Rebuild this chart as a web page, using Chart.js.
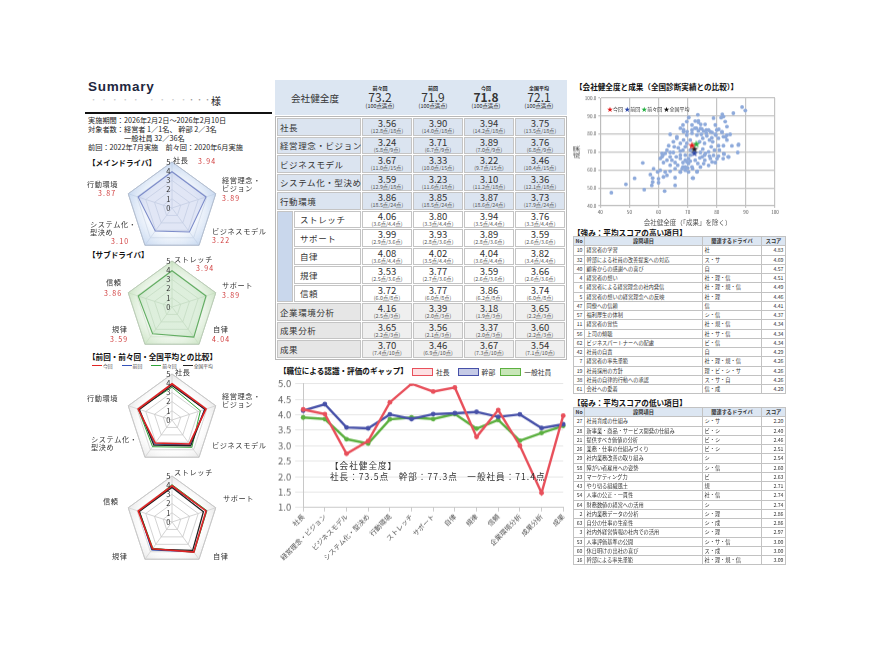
<!DOCTYPE html>
<html lang="ja">
<head>
<meta charset="utf-8">
<title>Summary</title>
<script src="https://cdn.jsdelivr.net/npm/chart.js@4.4.1/dist/chart.umd.min.js"></script>
<style>
html,body{margin:0;padding:0;background:#fff;}
body{position:relative;width:881px;height:660px;overflow:hidden;font-family:"Noto Sans CJK JP","Noto Sans",sans-serif;color:#222;}
.a{position:absolute;white-space:nowrap;}
canvas{position:absolute;}
.ttl{font-weight:bold;font-size:7.6px;line-height:9px;color:#111;}
.info{font-size:7.2px;line-height:9.3px;}
.lbl{font-size:7.2px;line-height:7.8px;letter-spacing:0.6px;color:#333;}
.val{font-size:7px;line-height:8px;color:#d03a3a;letter-spacing:1.2px;}
#ht,#mt{position:absolute;left:275px;width:292px;border-collapse:separate;border-spacing:1px;table-layout:fixed;}
#ht{top:80px;border:1px solid transparent;background:#dce6f2;}
#ht td{border:1px solid transparent;padding:0;height:29px;text-align:center;vertical-align:middle;}
#ht .hl{font-size:9.6px;text-align:center;color:#333;}
#ht .hc{font-size:5px;font-weight:bold;line-height:6px;}
#ht .hn{font-size:12px;line-height:12px;color:#333;}
#ht .hs{font-size:5.4px;line-height:7px;}
#mt{top:116px;border:1px solid #b8b8b8;}
#mt td{border:1px solid #c4c4c4;padding:0;height:15.5px;vertical-align:middle;}
#mt td.lab{font-size:8.5px;letter-spacing:0.6px;padding-left:2px;white-space:nowrap;color:#333;}
#mt tr.main td{background:#dbe4f0;}
#mt tr.sub td{background:#fff;}
#mt tr.sub td.lab{padding-left:5px;}
#mt tr.other td{background:#efefef;}
#mt tr.other td.lab{background:#e6e6e6;}
#mt td.band{background:#c9d7ec !important;}
#mt td.v{text-align:center;}
#mt .n{font-size:9.5px;line-height:9px;color:#333;}
#mt .s{font-size:5.3px;line-height:6px;color:#555;}
.qt{position:absolute;left:573px;width:212px;border-collapse:collapse;table-layout:fixed;font-size:5.2px;color:#333;}
.qt td,.qt th{border:1px solid #c2c2c2;height:8.25px;padding:0 1.5px;line-height:8px;overflow:hidden;white-space:nowrap;}
.qt th{background:#dce6f2;font-weight:bold;text-align:center;}
.qt th.no{text-align:left;}
.qt td.no,.qt td.sc{text-align:right;}
.lg{display:inline-block;width:19px;height:6px;border:1.3px solid;vertical-align:-1px;margin-right:3px;}
</style>
</head>
<body>
<div class="a" style="left:88px;top:79px;font-family:'Liberation Sans',sans-serif;font-weight:bold;font-size:13.5px;letter-spacing:0.7px;color:#1e2740;">Summary</div>
<div class="a" style="left:90px;top:94px;font-size:7px;color:#c8c8c8;letter-spacing:1px;">・ ・ ・ ・ ・　・ ・ ・ ・<span style="color:#9a9a9a">・・・</span></div>
<div class="a" style="left:211px;top:93px;font-size:10px;">様</div>
<div class="a" style="left:85px;top:112px;width:187px;height:1.5px;background:#111;"></div>
<div class="a info" style="left:88px;top:115.5px;">実施期間：2026年2月2日～2026年2月10日</div>
<div class="a info" style="left:88px;top:124.8px;">対象者数：経営者 1／1名、 幹部 2／3名</div>
<div class="a info" style="left:124px;top:134.1px;">一般社員 32／36名</div>
<div class="a info" style="left:88px;top:143.4px;">前回：2022年7月実施　前々回：2020年6月実施</div>

<div class="a ttl" style="left:88px;top:157.5px;">【メインドライバ】</div>
<div class="a ttl" style="left:88px;top:250px;">【サブドライバ】</div>
<div class="a ttl" style="left:88px;top:351.5px;">【前回・前々回・全国平均との比較】</div>
<div class="a" id="cmpLegend" style="left:92px;top:361.5px;font-size:4.8px;color:#444;"></div>

<canvas id="r1" width="110" height="110"></canvas>
<canvas id="r2" width="110" height="110"></canvas>
<canvas id="r3" width="110" height="110"></canvas>
<canvas id="r4" width="110" height="110"></canvas>
<div id="radarLabels"></div>

<table id="ht"><colgroup><col style="width:76px"><col><col><col><col></colgroup><tr id="htRow"></tr></table>
<table id="mt"></table>

<div class="a ttl" style="left:279px;top:366px;">【職位による認識・評価のギャップ】</div>
<div class="a" id="gapLegend" style="left:412px;top:367px;font-size:6.8px;color:#333;"></div>
<canvas id="gap" width="300" height="200"></canvas>
<div class="a" id="gapNote" style="left:330px;top:460px;font-size:8.6px;line-height:11px;letter-spacing:1px;color:#333;"></div>

<div class="a ttl" style="left:575px;top:82px;">【会社健全度と成果（全国診断実績との比較）】</div>
<canvas id="sc" width="220" height="140"></canvas>
<div class="a" id="scLegend" style="left:607px;top:104px;font-size:5px;color:#333;"></div>

<div class="a ttl" style="left:573px;top:228px;">【強み：平均スコアの高い項目】</div>
<table class="qt" id="strong" style="top:236px;"></table>
<div class="a ttl" style="left:573px;top:398px;">【弱み：平均スコアの低い項目】</div>
<table class="qt" id="weak" style="top:407px;"></table>

<script>
// ---- data ----
const mainLabels = ['社長','経営理念・ビジョン','ビジネスモデル','システム化・型決め','行動環境'];
const subLabels = ['ストレッチ','サポート','自律','規律','信頼'];
const mainNow = [3.94, 3.89, 3.22, 3.10, 3.87];
const mainPrev = [3.90, 3.71, 3.33, 3.23, 3.85];
const mainPrev2 = [3.56, 3.24, 3.67, 3.59, 3.86];
const mainNational = [3.75, 3.76, 3.46, 3.36, 3.73];
const subNow = [3.94, 3.89, 4.04, 3.59, 3.86];
const subPrev = [3.80, 3.93, 4.02, 3.77, 3.77];
const subPrev2 = [4.06, 3.99, 4.08, 3.53, 3.72];
const subNational = [3.76, 3.59, 3.82, 3.66, 3.74];
const radarMax = [5, 5, 5, 5, 5];

const periodLabels = ['前々回','前回','今回','全国平均'];
const healthScores = [73.2, 71.9, 71.8, 72.1];

const tableRows = ['社長','経営理念・ビジョン','ビジネスモデル','システム化・型決め','行動環境','ストレッチ','サポート','自律','規律','信頼','企業環境分析','成果分析','成果'];
const rowKind = ['main','main','main','main','main','sub','sub','sub','sub','sub','other','other','other'];
const scorePrev2 = [3.56, 3.24, 3.67, 3.59, 3.86, 4.06, 3.99, 4.08, 3.53, 3.72, 4.16, 3.65, 3.70];
const scorePrev = [3.90, 3.71, 3.33, 3.23, 3.85, 3.80, 3.93, 4.02, 3.77, 3.77, 3.39, 3.56, 3.46];
const scoreNow = [3.94, 3.89, 3.22, 3.10, 3.87, 3.94, 3.89, 4.04, 3.59, 3.86, 3.18, 3.37, 3.67];
const scoreNational = [3.75, 3.76, 3.46, 3.36, 3.73, 3.76, 3.59, 3.82, 3.66, 3.74, 3.65, 3.60, 3.54];
const ptsPrev2 = ['12.8','5.8','11.0','12.9','18.5','3.6','2.9','3.6','2.5','6.0','2.5','2.2','7.4'];
const ptsPrev = ['14.0','6.7','10.0','11.6','18.5','3.3','2.8','3.5','2.7','6.0','2.0','2.1','6.9'];
const ptsNow = ['14.2','7.0','9.7','11.2','18.6','3.5','2.8','3.6','2.6','6.2','1.9','2.0','7.3'];
const ptsNational = ['13.5','6.8','10.4','12.1','17.9','3.3','2.6','3.4','2.6','6.0','2.2','2.2','7.1'];
const ptsMax = ['18','9','15','18','24','4.4','3.6','4.4','3.6','8','3','3','10'];

const gapLabels = ['社長','経営理念・ビジョン','ビジネスモデル','システム化・型決め','行動環境','ストレッチ','サポート','自律','規律','信頼','企業環境分析','成果分析','成果'];
const levelNames = ['社長','幹部','一般社員'];
const gapPresident = [4.17, 4.02, 2.74, 3.15, 4.40, 5.00, 4.75, 4.88, 3.28, 4.15, 3.00, 1.47, 3.97];
const gapManager = [4.13, 4.34, 3.59, 3.56, 4.01, 3.86, 4.02, 4.05, 4.09, 3.93, 4.01, 3.57, 3.69];
const gapStaff = [3.91, 3.86, 3.21, 3.07, 3.85, 3.91, 3.86, 4.02, 3.55, 3.83, 3.16, 3.41, 3.64];
const levelHealth = [73.5, 77.3, 71.4];

const starLabels = ['今回','前回','前々回','全国平均'];
const starX = [71.5, 72.3, 73.0, 72.3];
const starY = [73.4, 69.1, 74.2, 71.3];
const nationalX = [88.7,89.8,85.7,81.9,82.3,78.9,73.5,73.7,76.0,79.5,82.9,83.5,69.7,70.4,71.5,73.0,74.9,76.4,77.8,80.0,
  81.8,83.5,84.6,64.0,67.5,68.6,69.7,71.5,73.2,74.7,76.6,78.3,80.6,82.3,83.5,80.6,82.3,87.4,87.2,83.9,
  80.6,82.5,77.8,79.5,75.9,74.2,77.2,75.2,78.1,75.8,74.1,66.3,65.1,63.5,67.5,69.2,70.9,67.5,65.1,62.9,
  61.2,60.6,61.7,64.0,65.7,67.5,69.2,70.3,71.5,73.2,69.2,67.5,65.7,64.0,62.9,61.7,65.7,71.7,60.0,59.7,
  60.6,62.3,58.3,57.2,58.0,58.0,57.7,60.0,62.1,65.7,54.6,51.8,48.8,43.8,55.1,56.8,70.9,69.7,68.6,70.9,
  74.4,76.1,75.0,72.6,70.9,69.2,67.5,66.1,64.0,62.9,64.6,66.6,68.4,70.0,68.4,70.3,71.7,73.5,75.8,77.5,
  79.2,80.9,78.6,77.5,79.7,75.2,76.4,73.7,72.5,74.5,68.4,66.3,65.4,66.8,68.4,64.0,62.3,61.2,61.5,81.5,
  72.6,73.7,68.6,69.8,71.5,74.4,75.5,77.2,78.4,79.5,80.7,81.8,83.0,85.2,87.5,82.4,84.1,82.2,78.9,80.1,
  78.4,77.2,75.5,74.4,73.3,71.9,67.5,68.1,69.2,69.8,70.3];
const nationalY = [95.0,93.1,91.6,91.0,89.7,88.8,90.7,87.3,85.4,85.0,86.9,84.1,86.9,89.2,85.0,83.2,82.8,82.2,81.3,82.2,
  80.9,79.4,79.8,79.8,83.2,81.3,79.4,80.4,79.4,79.8,78.9,77.9,77.6,78.5,76.6,73.5,73.5,73.8,69.7,67.3,
  67.7,68.8,66.4,64.1,65.4,66.7,70.1,71.6,72.9,74.8,75.7,77.6,75.7,73.5,74.8,72.9,71.0,70.5,69.7,71.0,
  67.3,66.4,64.1,62.6,64.1,66.4,65.4,63.6,61.7,58.9,59.8,58.9,60.7,59.3,57.0,56.1,55.7,55.5,55.1,58.9,
  59.8,58.9,60.7,57.4,55.5,53.3,51.4,52.9,48.2,51.4,63.9,55.3,52.0,47.3,49.0,36.6,76.6,74.8,76.6,68.2,
  69.7,69.2,67.3,65.4,64.9,68.2,68.2,67.3,67.3,65.4,65.4,62.6,61.7,61.1,64.1,58.9,60.7,63.6,68.2,67.7,
  71.0,71.0,75.7,76.6,79.4,77.6,80.4,81.7,83.2,85.4,85.0,78.5,72.9,72.3,71.0,69.7,69.2,69.2,68.2,89.1,
  87.2,86.5,82.4,81.3,82.2,83.1,81.6,82.2,80.9,79.8,82.6,81.2,78.4,73.4,74.2,69.1,67.2,66.3,68.1,66.3,
  64.4,62.5,63.5,61.6,59.2,55.4,58.8,60.7,61.6,64.4,66.3];

const strongNo = [10,32,40,4,6,5,47,57,11,56,62,42,7,19,38,61];
const strongItem = ['経営者の学習','幹部による社員の改善提案への対応','顧客からの感謝への喜び','経営者の想い','経営者による経営理念の社内発信','経営者の想いの経営理念への反映','同僚への信頼','福利厚生の体制','経営者の覚悟','上司の傾聴','ビジネスパートナーへの配慮','社員の自責','経営者の率先垂範','社員採用の方針','社員の自律的行動への承認','会社への愛着'];
const strongDriver = ['社','ス・サ','自','社・理・信','社・理・規・信','社・理','信','シ・信','社・規・信','社・サ・信','ビ・信','自','社・理・規・信','理・ビ・シ・サ','ス・サ・自','信・成'];
const strongScore = [4.83,4.69,4.57,4.51,4.49,4.46,4.41,4.37,4.34,4.34,4.34,4.29,4.26,4.26,4.26,4.20];
const weakNo = [27,28,21,26,29,58,23,43,54,64,2,63,3,53,60,16];
const weakItem = ['社員育成の仕組み','新事業・商品・サービス開発の仕組み','提供すべき価値の分析','業務・仕事の仕組みづくり','社内業務改善の取り組み','障がい者雇用への姿勢','マーケティング力','やり切る組織風土','人事の公正・一貫性','財務数値の経営への活用','社内業務データの分析','自分の仕事の生産性','社内外経営情報の社内での活用','人事評価基準の公開','休日明けの出社の喜び','幹部による率先垂範'];
const weakDriver = ['シ・サ','ビ・シ','ビ・シ','ビ・シ','シ','シ・信','ビ','規','社・信','シ','シ・理','シ・成','シ・理','シ・サ・信','ス・成','社・理・規・信'];
const weakScore = [2.20,2.40,2.46,2.51,2.54,2.60,2.63,2.71,2.74,2.74,2.86,2.86,2.97,3.00,3.00,3.09];

// ---- styles ----
Chart.defaults.font.family = "'Noto Sans CJK JP', sans-serif";
Chart.defaults.animation = false;
const periodColors = ['#2fa33a', '#3552b8', '#e02323', '#222222']; // 前々回, 前回, 今回, 全国平均
const levelColors = ['#e8505b', '#4650a8', '#5cb040'];
const levelFills = ['#fde0e3', '#c5cae6', '#c8e6b8'];
const starColors = ['#e01515', '#2a46a8', '#22b040', '#111111'];

function bandFill(inner, outer){
  return (c) => {
    const s = c.chart.scales.r;
    if(!s || !s.drawingArea) return outer;
    const g = c.chart.ctx.createRadialGradient(s.xCenter, s.yCenter, 0, s.xCenter, s.yCenter, s.drawingArea);
    g.addColorStop(0, inner); g.addColorStop(0.55, inner); g.addColorStop(1, outer);
    return g;
  };
}
const radarTicks = {
  id:'radarTicks',
  afterDatasetsDraw(chart){
    const s = chart.scales.r, c = chart.ctx;
    c.save();
    c.font = "7.5px 'Noto Sans CJK JP'"; c.fillStyle = '#333';
    c.textAlign = 'right'; c.textBaseline = 'middle';
    s.ticks.forEach(t => c.fillText(String(t.value), s.xCenter - 1.5, s.yCenter - s.getDistanceFromCenterForValue(t.value)));
    c.restore();
  }
};
function makeRadar(id, labels, datasets, gridColor){
  return new Chart(document.getElementById(id), {
    type:'radar',
    data:{ labels, datasets },
    options:{
      responsive:false, maintainAspectRatio:false,
      layout:{ padding:6 },
      plugins:{ legend:{display:false}, tooltip:{enabled:false} },
      elements:{ point:{radius:0}, line:{tension:0} },
      scales:{ r:{ min:0, max:5, ticks:{ stepSize:1, display:false },
        pointLabels:{ display:false }, grid:{ color:gridColor, lineWidth:0.8 }, angleLines:{ color:gridColor, lineWidth:0.8 } } }
    },
    plugins:[radarTicks]
  });
}
function placeRadar(chart, cx, cy, r){
  const d = 2 * (r - chart.scales.r.drawingArea);
  if(Math.abs(d) > 0.1){ chart.resize(chart.width + d, chart.height + d); chart.update('none'); }
  const s = chart.scales.r;
  chart.canvas.style.left = (cx - s.xCenter) + 'px';
  chart.canvas.style.top = (cy - s.yCenter) + 'px';
}
function fitArea(chart, box){
  const a = chart.chartArea;
  chart.resize(chart.width + (box.r - box.l) - (a.right - a.left), chart.height + (box.b - box.t) - (a.bottom - a.top));
  chart.update('none');
  const b = chart.chartArea;
  chart.canvas.style.left = (box.l - b.left) + 'px';
  chart.canvas.style.top = (box.t - b.top) + 'px';
}

// ---- radars ----
const r1 = makeRadar('r1', mainLabels, [
  { data: mainNow, borderColor:'#7d8cc9', borderWidth:1.1, backgroundColor:'rgba(130,145,210,0.18)', fill:true },
  { data: radarMax, borderColor:'#b4bfd0', borderWidth:1, backgroundColor: bandFill('rgba(240,245,252,0.6)','rgba(190,210,238,0.85)'), fill:true }
], '#aab5c8');
placeRadar(r1, 172, 208, 46);
const r2 = makeRadar('r2', subLabels, [
  { data: subNow, borderColor:'#62ad62', borderWidth:1.1, backgroundColor:'rgba(120,188,120,0.2)', fill:true },
  { data: radarMax, borderColor:'#bccdb8', borderWidth:1, backgroundColor: bandFill('rgba(241,248,239,0.6)','rgba(196,224,188,0.85)'), fill:true }
], '#b2c4ae');
placeRadar(r2, 172, 307, 46);
function cmpSets(now, prev, prev2, nat){
  return [
    { data: now, borderColor: periodColors[2], borderWidth:1.6, fill:false },
    { data: nat, borderColor: periodColors[3], borderWidth:1.3, fill:false },
    { data: prev, borderColor: periodColors[1], borderWidth:1, fill:false },
    { data: prev2, borderColor: periodColors[0], borderWidth:1, fill:false },
    { data: radarMax, borderColor:'#c8c8c8', borderWidth:1, backgroundColor: bandFill('rgba(255,255,255,0)','rgba(212,212,212,0.55)'), fill:true }
  ];
}
const r3 = makeRadar('r3', mainLabels, cmpSets(mainNow, mainPrev, mainPrev2, mainNational), '#c8c8c8');
placeRadar(r3, 172, 420, 46);
const r4 = makeRadar('r4', subLabels, cmpSets(subNow, subPrev, subPrev2, subNational), '#c8c8c8');
placeRadar(r4, 172, 522, 46);

// radar text labels (name lines, optional value)
const radarText = [
  [['社長'], 173, 157, mainNow[0], 198, 157],
  [['経営理念・','ビジョン'], 222, 177, mainNow[1], 222, 194],
  [['ビジネスモデル'], 212, 228, mainNow[2], 212, 236],
  [['システム化・','型決め'], 90, 221, mainNow[3], 111, 237],
  [['行動環境'], 87, 181, mainNow[4], 98, 189],
  [['ストレッチ'], 174, 256, subNow[0], 196, 263.5],
  [['サポート'], 222, 282, subNow[1], 222, 291],
  [['自律'], 213, 326, subNow[2], 212, 335],
  [['規律'], 112, 326, subNow[3], 110, 335],
  [['信頼'], 106, 279, subNow[4], 104, 289],
  [['社長'], 175, 369],
  [['経営理念・','ビジョン'], 222, 393],
  [['ビジネスモデル'], 212, 442],
  [['システム化・','型決め'], 91, 436],
  [['行動環境'], 87, 395],
  [['ストレッチ'], 174, 469],
  [['サポート'], 223, 495],
  [['自律'], 213, 553],
  [['規律'], 112, 553],
  [['信頼'], 103, 498]
];
let rl = '';
radarText.forEach(t => {
  rl += '<div class="a lbl" style="left:'+t[1]+'px;top:'+t[2]+'px;">'+t[0].join('<br>')+'</div>';
  if(t[3] !== undefined) rl += '<div class="a val" style="left:'+t[4]+'px;top:'+t[5]+'px;">'+t[3].toFixed(2)+'</div>';
});
document.getElementById('radarLabels').innerHTML = rl;
const cmpOrder = [2, 1, 0, 3];
document.getElementById('cmpLegend').innerHTML = cmpOrder.map(i =>
  '<span style="display:inline-block;width:10px;height:0;border-top:'+(i===2?1.8:1.2)+'px solid '+periodColors[i]+';vertical-align:1.5px;margin-right:1px;"></span>'+periodLabels[i]+'<span style="display:inline-block;width:'+(i===0?6:9)+'px"></span>').join('');

// ---- health header & score table ----
let hh = '<td class="hl">会社健全度</td>';
healthScores.forEach((v, i) => {
  hh += '<td><div class="hc">'+periodLabels[i]+'</div><div class="hn"'+(i===2?' style="font-weight:bold"':'')+'>'+v.toFixed(1)+'</div><div class="hs">(100点満点)</div></td>';
});
document.getElementById('htRow').innerHTML = hh;
const scoreCols = [scorePrev2, scorePrev, scoreNow, scoreNational];
const ptsCols = [ptsPrev2, ptsPrev, ptsNow, ptsNational];
let mh = '<colgroup><col style="width:16px"><col style="width:67px"><col><col><col><col></colgroup>';
tableRows.forEach((name, i) => {
  const kind = rowKind[i];
  mh += '<tr class="'+kind+'">';
  if(kind === 'sub'){
    if(rowKind[i-1] !== 'sub') mh += '<td class="band" rowspan="'+rowKind.filter(k => k==='sub').length+'"></td>';
    mh += '<td class="lab">'+name+'</td>';
  } else {
    mh += '<td class="lab" colspan="2">'+name+'</td>';
  }
  scoreCols.forEach((col, j) => {
    mh += '<td class="v"><div class="n">'+col[i].toFixed(2)+'</div><div class="s">('+ptsCols[j][i]+'点/'+ptsMax[i]+'点)</div></td>';
  });
  mh += '</tr>';
});
document.getElementById('mt').innerHTML = mh;

// ---- gap line chart ----
const gapSeries = [gapPresident, gapManager, gapStaff];
document.getElementById('gapLegend').innerHTML = levelNames.map((n, i) =>
  '<span class="lg" style="border-color:'+levelColors[i]+';background:'+levelFills[i]+'"></span>'+n+'<span style="display:inline-block;width:'+(i===0?8:5)+'px"></span>').join('');
document.getElementById('gapNote').innerHTML = '【会社健全度】<br>' +
  levelNames.map((n, i) => n+'：'+levelHealth[i].toFixed(1)+'点').join('　');
const gap = new Chart(document.getElementById('gap'), {
  type:'line',
  data:{ labels: gapLabels, datasets: gapSeries.map((s, i) => ({
    label: levelNames[i], data: s, borderColor: levelColors[i], backgroundColor: levelColors[i],
    borderWidth: 2.4, pointRadius: 2.4, pointBorderWidth: 0, tension: 0
  })) },
  options:{
    responsive:false, maintainAspectRatio:false,
    layout:{ padding:{ left:2, right:4, top:6, bottom:2 } },
    plugins:{ legend:{display:false}, tooltip:{enabled:false} },
    scales:{
      y:{ min:1, max:5, ticks:{ stepSize:0.5, callback: v => v.toFixed(1), font:{size:9.5}, color:'#666', padding:4 },
          grid:{ color:'#e6e6e6' }, border:{ color:'#c8c8c8' } },
      x:{ ticks:{ minRotation:45, maxRotation:45, autoSkip:false, font:{size:6.8}, color:'#555', padding:1 },
          grid:{ drawOnChartArea:false, color:'#ccc', tickLength:4 }, border:{ color:'#c8c8c8' } }
    }
  }
});
fitArea(gap, { l:303.3, t:383.6, r:563.3, b:506.7 });

// ---- scatter ----
function starImage(color){
  const c = document.createElement('canvas');
  c.width = 10; c.height = 10;
  const g = c.getContext('2d');
  g.fillStyle = color; g.font = "10px 'DejaVu Sans'"; g.textAlign = 'center'; g.textBaseline = 'middle';
  g.fillText('★', 5, 5.5);
  return c;
}
const starSets = starLabels.map((n, i) => ({
  label:n, data:[{ x: starX[i], y: starY[i] }], pointStyle: starImage(starColors[i]), pointRadius:5
}));
const sc = new Chart(document.getElementById('sc'), {
  type:'scatter',
  data:{ datasets: starSets.concat([{ label:'全国', data: nationalX.map((x, i) => ({ x, y: nationalY[i] })),
    pointRadius:1.9, backgroundColor:'#8eaadb', borderWidth:0, clip:false }]) },
  options:{
    responsive:false, maintainAspectRatio:false,
    layout:{ padding:{ left:0, right:6, top:4, bottom:0 } },
    plugins:{ legend:{display:false}, tooltip:{enabled:false} },
    scales:{
      x:{ min:40, max:100, ticks:{ stepSize:10, font:{size:4.6}, color:'#555', padding:2 },
          title:{ display:true, text:'会社健全度（「成果」を除く）', font:{size:6.5}, color:'#555', padding:{top:1,bottom:0} },
          grid:{ color:'#c4c4c4', lineWidth:1.2, tickLength:2 }, border:{ color:'#bcbcbc' } },
      y:{ min:40, max:100, ticks:{ stepSize:10, callback: v => v.toFixed(1), font:{size:4.6}, color:'#555', padding:2 },
          title:{ display:true, text:'成果', font:{size:6.5}, color:'#555', padding:{top:0,bottom:2} },
          grid:{ color:'#c4c4c4', lineWidth:1.2, tickLength:2 }, border:{ color:'#bcbcbc' } }
    }
  }
});
fitArea(sc, { l:600, t:98.3, r:774.7, b:205.3 });
document.getElementById('scLegend').innerHTML = starLabels.map((n, i) =>
  '<span style="color:'+starColors[i]+';font-size:6px">★</span>'+n).join('&nbsp;');

// ---- strength / weakness tables ----
function qTable(id, no, item, drv, score){
  let h = '<colgroup><col style="width:11px"><col style="width:118px"><col style="width:59px"><col style="width:24px"></colgroup>';
  h += '<tr><th class="no">No</th><th>設問項目</th><th>関連するドライバ</th><th>スコア</th></tr>';
  no.forEach((n, i) => {
    h += '<tr><td class="no">'+n+'</td><td>'+item[i]+'</td><td>'+drv[i]+'</td><td class="sc">'+score[i].toFixed(2)+'</td></tr>';
  });
  document.getElementById(id).innerHTML = h;
}
qTable('strong', strongNo, strongItem, strongDriver, strongScore);
qTable('weak', weakNo, weakItem, weakDriver, weakScore);
</script>
</body>
</html>
